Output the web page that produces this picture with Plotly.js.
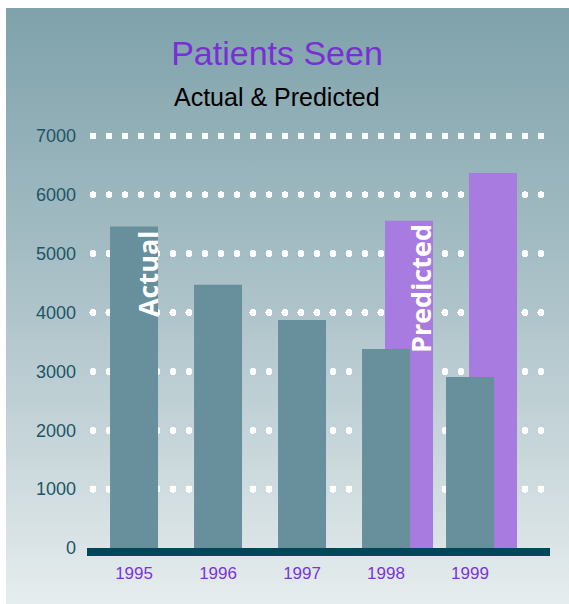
<!DOCTYPE html>
<html>
<head>
<meta charset="utf-8">
<script src="https://cdn.plot.ly/plotly-3.0.1.min.js"></script>
<style>
  html, body { margin: 0; padding: 0; background: #ffffff; }
  #bg { position: absolute; left: 6px; top: 8px; width: 563px; height: 596px;
        background: linear-gradient(to bottom, #7fa2ab 0%, #a3bcc3 40%, #c9d7db 75%, #e6edee 100%); }
  #chart { position: absolute; left: 0; top: 0; width: 569px; height: 604px; }
  #chart .gridlayer path { stroke-linecap: round; stroke-dashoffset: 10px; }
</style>
</head>
<body>
<div id="bg"></div>
<div id="chart"></div>
<script>
// Data
const years = [1995, 1996, 1997, 1998, 1999];
const actualValues = [5460, 4470, 3875, 3380, 2905];
const predictedValues = [null, null, null, 5560, 6370];
const yTicks = [0, 1000, 2000, 3000, 4000, 5000, 6000, 7000];
const yTickLabels = ['0', '1000', '2000', '3000', '4000', '5000', '6000', '7000'];
const xTickLabels = ['1995', '1996', '1997', '1998', '1999'];

const traces = [
  {
    type: 'bar', name: 'Predicted', x: years, y: predictedValues,
    width: 0.5714, offset: -0.012,
    marker: { color: '#a77be0' }, hoverinfo: 'skip'
  },
  {
    type: 'bar', name: 'Actual', x: years, y: actualValues,
    width: 0.5714, offset: -0.2857,
    marker: { color: '#67909c' }, hoverinfo: 'skip'
  }
];

const layout = {
  width: 569, height: 604,
  margin: { l: 87, r: 19, t: 133, b: 56, pad: 0 },
  paper_bgcolor: 'rgba(0,0,0,0)',
  plot_bgcolor: 'rgba(0,0,0,0)',
  showlegend: false,
  barmode: 'overlay',
  title: {
    text: 'Patients Seen',
    font: { family: 'Liberation Sans, Arial, sans-serif', size: 34, color: '#7a2fd6' },
    xref: 'container', yref: 'container',
    x: 277 / 569, xanchor: 'center',
    y: 1 - 53 / 604, yanchor: 'middle'
  },
  xaxis: {
    type: 'linear',
    range: [1994.44, 1999.952],
    tickvals: years, ticktext: xTickLabels,
    showgrid: false, zeroline: false,
    showline: true, linecolor: '#00475a', linewidth: 8,
    ticks: '', ticklabelstandoff: 3,
    tickfont: { family: 'Liberation Sans, Arial, sans-serif', size: 17, color: '#7a35d8' },
    fixedrange: true
  },
  yaxis: {
    range: [0, 7050],
    tickvals: yTicks, ticktext: yTickLabels,
    showgrid: true, gridcolor: '#ffffff', gridwidth: 7, griddash: '0px,16px',
    zeroline: true, zerolinecolor: 'rgba(0,0,0,0)', zerolinewidth: 1,
    showline: false, ticks: '', ticklabelstandoff: 10,
    tickfont: { family: 'Liberation Sans, Arial, sans-serif', size: 18, color: '#1d5566' },
    fixedrange: true
  },
  annotations: [
    {
      text: 'Actual & Predicted', xref: 'paper', yref: 'paper',
      x: (277 - 87) / 463, y: (548 - 97) / 415, xanchor: 'center', yanchor: 'middle',
      showarrow: false,
      font: { family: 'Liberation Sans, Arial, sans-serif', size: 25, color: '#000000' }
    },
    {
      text: '<b>Actual</b>', xref: 'x', yref: 'y', x: 1995.167, y: 4655,
      textangle: -90, showarrow: false, xanchor: 'center', yanchor: 'middle',
      font: { family: 'Open Sans, sans-serif', size: 27, color: '#ffffff' }
    },
    {
      text: '<b>Predicted</b>', xref: 'x', yref: 'y', x: 1998.417, y: 4400,
      textangle: -90, showarrow: false, xanchor: 'center', yanchor: 'middle',
      font: { family: 'Open Sans, sans-serif', size: 27, color: '#ffffff' }
    }
  ]
};

Plotly.newPlot('chart', traces, layout, { staticPlot: true, displayModeBar: false });
</script>
</body>
</html>
